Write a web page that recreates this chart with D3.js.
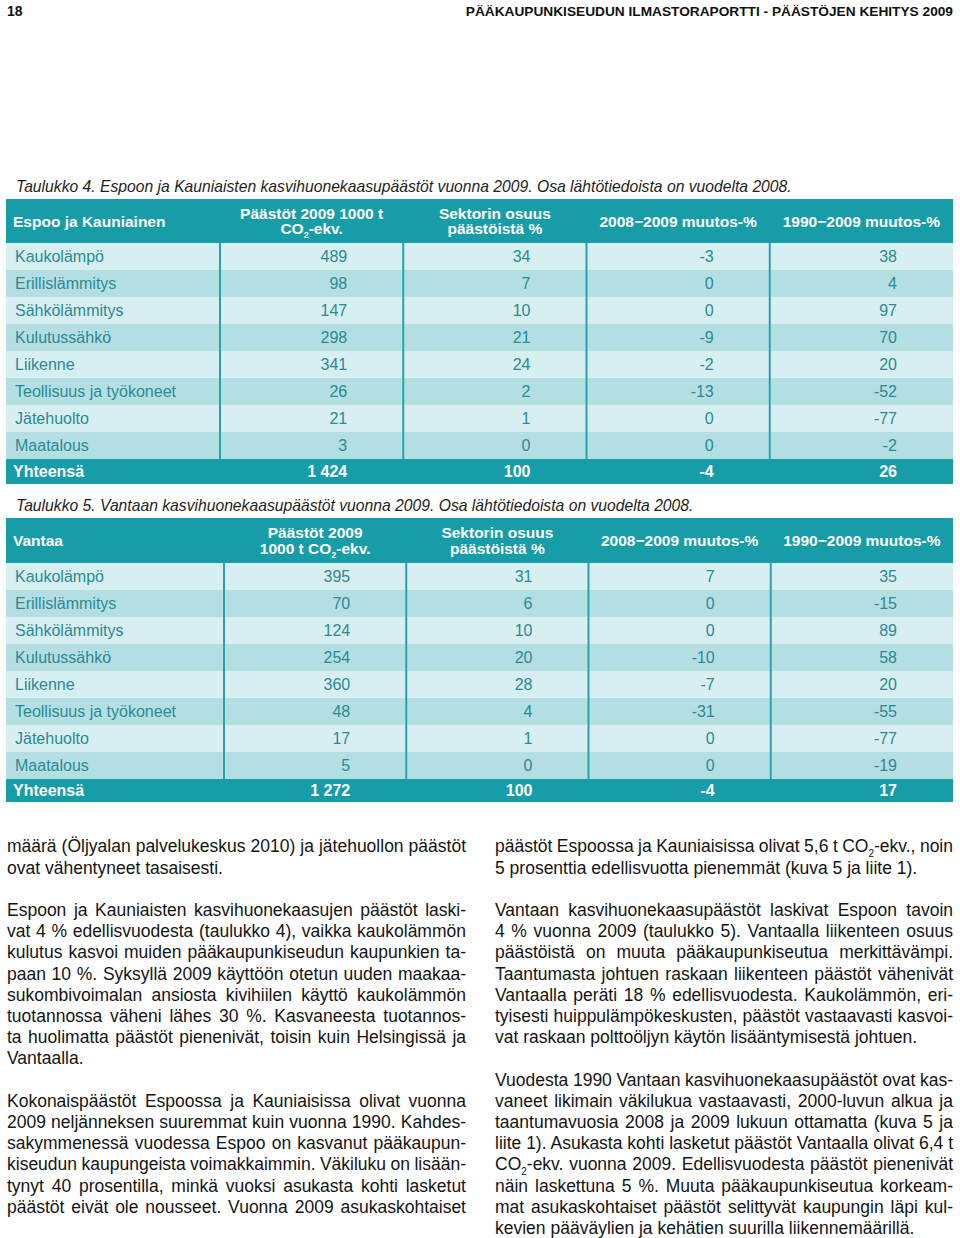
<!DOCTYPE html>
<html><head><meta charset="utf-8">
<script src="https://cdn.jsdelivr.net/npm/d3@7"></script>
<style>
body{margin:0;background:#fff;}
#page{position:relative;width:960px;height:1238px;overflow:hidden;font-family:"Liberation Sans",Arial,sans-serif;}
#page svg{position:absolute;left:0;top:0;}
.ln{position:absolute;white-space:nowrap;font-size:17.5px;line-height:21.2px;color:#141414;}
.sub{font-size:10px;position:relative;top:5px;}
</style></head><body><div id="page"></div>
<script>
// ---------- data ----------
const sectors = ["Kaukolämpö","Erillislämmitys","Sähkölämmitys","Kulutussähkö","Liikenne","Teollisuus ja työkoneet","Jätehuolto","Maatalous"];
const columnKeys = ["emissions","share","change0809","change9009"];

const espooEmissions   = [489, 98, 147, 298, 341, 26, 21, 3];
const espooShare       = [34, 7, 10, 21, 24, 2, 1, 0];
const espooChange0809  = [-3, 0, 0, -9, -2, -13, 0, 0];
const espooChange9009  = [38, 4, 97, 70, 20, -52, -77, -2];
const espooTotal       = [1424, 100, -4, 26];

const vantaaEmissions  = [395, 70, 124, 254, 360, 48, 17, 5];
const vantaaShare      = [31, 6, 10, 20, 28, 4, 1, 0];
const vantaaChange0809 = [7, 0, 0, -10, -7, -31, 0, 0];
const vantaaChange9009 = [35, -15, 89, 58, 20, -55, -77, -19];
const vantaaTotal      = [1272, 100, -4, 17];

const totalLabel = "Yhteensä";
const espooHeaders  = ["Espoo ja Kauniainen", ["Päästöt 2009 1000 t", "CO|2|-ekv."], ["Sektorin osuus", "päästöistä %"], ["2008−2009 muutos-%"], ["1990−2009 muutos-%"]];
const vantaaHeaders = ["Vantaa", ["Päästöt 2009", "1000 t CO|2|-ekv."], ["Sektorin osuus", "päästöistä %"], ["2008−2009 muutos-%"], ["1990−2009 muutos-%"]];

const pageNumber = "18";
const runningTitle = "PÄÄKAUPUNKISEUDUN ILMASTORAPORTTI - PÄÄSTÖJEN KEHITYS 2009";
const caption4 = "Taulukko 4. Espoon ja Kauniaisten kasvihuonekaasupäästöt vuonna 2009. Osa lähtötiedoista on vuodelta 2008.";
const caption5 = "Taulukko 5. Vantaan kasvihuonekaasupäästöt vuonna 2009. Osa lähtötiedoista on vuodelta 2008.";

// body text, line by line; "" marks a paragraph gap; trailing "|" = last line (not justified)
const leftColumnLines = [
  "määrä (Öljyalan palvelukeskus 2010) ja jätehuollon päästöt",
  "ovat vähentyneet tasaisesti.|",
  "",
  "Espoon ja Kauniaisten kasvihuonekaasujen päästöt laski-",
  "vat 4 % edellisvuodesta (taulukko 4), vaikka kaukolämmön",
  "kulutus kasvoi muiden pääkaupunkiseudun kaupunkien ta-",
  "paan 10 %. Syksyllä 2009 käyttöön otetun uuden maakaa-",
  "sukombivoimalan ansiosta kivihiilen käyttö kaukolämmön",
  "tuotannossa väheni lähes 30 %. Kasvaneesta tuotannos-",
  "ta huolimatta päästöt pienenivät, toisin kuin Helsingissä ja",
  "Vantaalla.|",
  "",
  "Kokonaispäästöt Espoossa ja Kauniaisissa olivat vuonna",
  "2009 neljänneksen suuremmat kuin vuonna 1990. Kahdes-",
  "sakymmenessä vuodessa Espoo on kasvanut pääkaupun-",
  "kiseudun kaupungeista voimakkaimmin. Väkiluku on lisään-",
  "tynyt 40 prosentilla, minkä vuoksi asukasta kohti lasketut",
  "päästöt eivät ole nousseet. Vuonna 2009 asukaskohtaiset"
];
const rightColumnLines = [
  "päästöt Espoossa ja Kauniaisissa olivat 5,6 t CO_2-ekv., noin",
  "5 prosenttia edellisvuotta pienemmät (kuva 5 ja liite 1).|",
  "",
  "Vantaan kasvihuonekaasupäästöt laskivat Espoon tavoin",
  "4 % vuonna 2009 (taulukko 5). Vantaalla liikenteen osuus",
  "päästöistä on muuta pääkaupunkiseutua merkittävämpi.",
  "Taantumasta johtuen raskaan liikenteen päästöt vähenivät",
  "Vantaalla peräti 18 % edellisvuodesta. Kaukolämmön, eri-",
  "tyisesti huippulämpökeskusten, päästöt vastaavasti kasvoi-",
  "vat raskaan polttoöljyn käytön lisääntymisestä johtuen.|",
  "",
  "Vuodesta 1990 Vantaan kasvihuonekaasupäästöt ovat kas-",
  "vaneet likimain väkilukua vastaavasti, 2000-luvun alkua ja",
  "taantumavuosia 2008 ja 2009 lukuun ottamatta (kuva 5 ja",
  "liite 1). Asukasta kohti lasketut päästöt Vantaalla olivat 6,4 t",
  "CO_2-ekv. vuonna 2009. Edellisvuodesta päästöt pienenivät",
  "näin laskettuna 5 %. Muuta pääkaupunkiseutua korkeam-",
  "mat asukaskohtaiset päästöt selittyvät kaupungin läpi kul-",
  "kevien pääväylien ja kehätien suurilla liikennemäärillä.|"
];

// ---------- style ----------
const W = 960, H = 1238;
const C = {
  header: "#169da8",
  rowLight: "#d7eff1",
  rowDark: "#b4dfe2",
  line: "#2aa2ad",
  cellText: "#2a8a95",
  caption: "#1e1e1e"
};
const FONT = '"Liberation Sans", Arial, sans-serif';
const fmt = d3.formatLocale({decimal: ",", thousands: " ", grouping: [3], currency: ["", ""], minus: "-"}).format(",d");

const page = d3.select("#page");
const svg = page.append("svg").attr("width", W).attr("height", H).style("font-family", FONT);

// running header
const NARROW = '"Liberation Sans Narrow", "Liberation Sans", Arial, sans-serif';
svg.append("text").attr("x", 7).attr("y", 16).attr("font-weight", "bold")
  .attr("font-size", 14).attr("fill", "#111").style("font-family", NARROW)
  .text(pageNumber);
const title = svg.append("text").attr("x", 953).attr("y", 16).attr("text-anchor", "end").attr("font-weight", "bold")
  .attr("font-size", 14).attr("fill", "#111").style("font-family", NARROW)
  .text(runningTitle);
{
  const w = title.node().getComputedTextLength();
  if (w > 0) title.attr("font-size", Math.min(15, 14 * 488 / w));
}

// captions
function caption(text, y) {
  svg.append("text").attr("x", 16).attr("y", y).attr("font-style", "italic")
    .attr("font-size", 15.7).attr("fill", C.caption).text(text);
}
caption(caption4, 192);
caption(caption5, 511);

function headerLine(g, line, x, y, anchor) {
  const t = g.append("text").attr("x", x).attr("y", y).attr("text-anchor", anchor)
    .attr("font-weight", "bold").attr("font-size", 15.5).attr("fill", "#fff");
  const parts = line.split("|");
  parts.forEach((p, i) => {
    const ts = t.append("tspan").text(p);
    if (i === 1) ts.attr("font-size", 9).attr("dy", 4);
    if (i === 2) ts.attr("dy", -4);
  });
}

function drawTable(cfg) {
  const g = svg.append("g");
  const left = 6, right = 953;
  const bodyTop = cfg.top + cfg.headerH;
  const y = d3.scaleBand().domain(cfg.categories).range([bodyTop, bodyTop + cfg.categories.length * cfg.rowH]);
  const x = d3.scaleBand().domain(columnKeys).range([cfg.firstColRight, right]);
  const totalTop = y.range()[1];

  g.append("rect").attr("x", left).attr("y", cfg.top).attr("width", right - left).attr("height", cfg.headerH).attr("fill", C.header);
  g.selectAll("rect.row").data(cfg.categories).join("rect").attr("class", "row")
    .attr("x", left).attr("width", right - left)
    .attr("y", d => y(d)).attr("height", y.bandwidth())
    .attr("fill", (d, i) => i % 2 === 0 ? C.rowLight : C.rowDark);
  g.append("rect").attr("x", left).attr("y", totalTop).attr("width", right - left).attr("height", cfg.totalH).attr("fill", C.header);
  g.selectAll("line.sep").data(columnKeys).join("line").attr("class", "sep")
    .attr("x1", d => x(d)).attr("x2", d => x(d))
    .attr("y1", bodyTop).attr("y2", totalTop)
    .attr("stroke", C.line).attr("stroke-width", 2);

  const hc = cfg.top + cfg.headerH / 2;
  g.append("text").attr("x", 13).attr("y", hc).attr("dy", "0.36em")
    .attr("font-weight", "bold").attr("font-size", 15.5).attr("fill", "#fff").text(cfg.headers[0]);
  columnKeys.forEach((k, j) => {
    const lines = cfg.headers[j + 1];
    const cx = x(k) + x.bandwidth() / 2;
    lines.forEach((ln, li) => {
      const yy = hc + (li - (lines.length - 1) / 2) * 15.5 + 5.5;
      headerLine(g, ln, cx, yy, "middle");
    });
  });

  g.selectAll("text.lab").data(cfg.categories).join("text").attr("class", "lab")
    .attr("x", 15).attr("y", d => y(d) + y.bandwidth() / 2).attr("dy", "0.36em")
    .attr("font-size", 16).attr("fill", C.cellText).text(d => d);

  columnKeys.forEach((k, j) => {
    g.selectAll("text.v" + j).data(cfg.values[j]).join("text").attr("class", "v" + j)
      .attr("x", x(k) + x.bandwidth() - 56)
      .attr("y", (d, i) => y(cfg.categories[i]) + y.bandwidth() / 2).attr("dy", "0.36em")
      .attr("text-anchor", "end").attr("font-size", 16).attr("fill", C.cellText)
      .text(d => fmt(d));
  });

  const tc = totalTop + cfg.totalH / 2;
  g.append("text").attr("x", 13).attr("y", tc).attr("dy", "0.36em")
    .attr("font-weight", "bold").attr("font-size", 16).attr("fill", "#fff").text(totalLabel);
  g.selectAll("text.tot").data(cfg.totals).join("text").attr("class", "tot")
    .attr("x", (d, j) => x(columnKeys[j]) + x.bandwidth() - 56)
    .attr("y", tc).attr("dy", "0.36em").attr("text-anchor", "end")
    .attr("font-weight", "bold").attr("font-size", 16).attr("fill", "#fff")
    .text(d => fmt(d));
}

drawTable({
  top: 199, headerH: 44, rowH: 27, totalH: 25, firstColRight: 220,
  categories: sectors, headers: espooHeaders,
  values: [espooEmissions, espooShare, espooChange0809, espooChange9009],
  totals: espooTotal
});
drawTable({
  top: 518, headerH: 45, rowH: 27, totalH: 23, firstColRight: 224,
  categories: sectors, headers: vantaaHeaders,
  values: [vantaaEmissions, vantaaShare, vantaaChange0809, vantaaChange9009],
  totals: vantaaTotal
});

// ---------- body text ----------
function writeColumn(lines, x0, width, firstCenter) {
  const lh = 21.2;
  lines.forEach((raw, i) => {
    if (raw === "") return;
    const last = raw.endsWith("|");
    const txt = last ? raw.slice(0, -1) : raw;
    const html = txt.replace(/_2/g, '<span class="sub">2</span>');
    const div = page.append("div").attr("class", "ln")
      .style("left", x0 + "px")
      .style("top", (firstCenter + i * lh - lh / 2 + 1) + "px")
      .html(html);
    if (!last) {
      const w = div.node().getBoundingClientRect().width;
      const spaces = (txt.match(/ /g) || []).length;
      if (spaces > 0) div.style("word-spacing", ((width - w) / spaces) + "px");
    }
  });
}
writeColumn(leftColumnLines, 7, 459, 846);
writeColumn(rightColumnLines, 495, 458, 846);
</script></body></html>
